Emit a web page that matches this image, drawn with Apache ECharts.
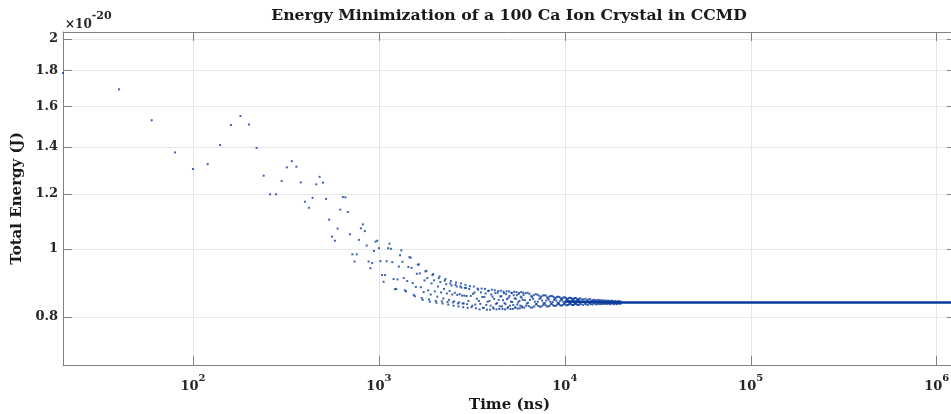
<!DOCTYPE html>
<html>
<head>
<meta charset="utf-8">
<script src="https://cdn.jsdelivr.net/npm/echarts@6/dist/echarts.min.js"></script>
<style>
html,body{margin:0;padding:0;background:#fff;}
#chart{width:951px;height:414px;}
</style>
</head>
<body>
<div id="chart"></div>
<script>
// Time (ns) and total energy (units of 1e-20 J)
const timeEarly = [20,40,60,80,100,120,140,160,180,200,220,240,260,280,300,320,340,360,380,400,
420,440,460,480,500,520,540,560,580,600,620,640,660,680,700,720,740,760,780,800,
820,840,860,880,900,920,940,960,980,1000,1020,1040,1060,1080,1100,1120,1140,1160,1180,1200,
1220,1240,1260,1280,1300,1320,1340,1360,1380,1400,1420,1440,1460,1480,1500,1520,1540,1560,1580,1600,
1620,1640,1660,1680,1700,1720,1740,1760,1780,1800,1820,1840,1860,1880,1900,1920,1940,1960,1980,2000,
2020,2040,2060,2080,2100,2120,2140,2160,2180,2200,2220,2240,2260,2280,2300,2320,2340,2360,2380,2400,
2420,2440,2460,2480,2500,2520,2540,2560,2580,2600,2620,2640,2660,2680,2700,2720,2740,2760,2780,2800,
2820,2840,2860,2880,2900,2920,2940,2960,2980,3000];
const energyEarly = [1.787,1.693,1.529,1.375,1.302,1.323,1.409,1.505,1.550,1.508,1.396,1.274,1.198,1.198,1.252,1.309,1.336,1.312,1.246,1.169,
1.146,1.184,1.238,1.269,1.245,1.180,1.102,1.042,1.028,1.070,1.139,1.187,1.186,1.130,1.050,0.983,0.960,0.983,1.031,1.071,
1.085,1.061,1.012,0.960,0.939,0.955,0.994,1.025,1.028,1.003,0.961,0.918,0.898,0.918,0.961,1.003,1.018,1.001,0.958,0.906,
0.876,0.877,0.905,0.944,0.980,0.996,0.959,0.909,0.873,0.870,0.900,0.943,0.974,0.972,0.940,0.894,0.860,0.856,0.883,0.922,
0.950,0.951,0.923,0.882,0.851,0.846,0.868,0.902,0.929,0.931,0.909,0.873,0.847,0.841,0.861,0.893,0.918,0.921,0.902,0.870,
0.843,0.838,0.855,0.884,0.909,0.914,0.897,0.867,0.842,0.836,0.850,0.877,0.901,0.906,0.891,0.864,0.840,0.833,0.846,0.871,
0.893,0.900,0.887,0.861,0.839,0.830,0.842,0.866,0.889,0.896,0.884,0.860,0.836,0.828,0.839,0.862,0.884,0.893,0.881,0.858,
0.836,0.826,0.836,0.858,0.880,0.889,0.880,0.857,0.834,0.824];
const timeBand = [3060,3120,3180,3240,3300,3360,3420,3480,3540,3600,3660,3720,3780,3840,3900,3960,4020,4080,4140,4200,
4260,4320,4380,4440,4500,4560,4620,4680,4740,4800,4860,4920,4980,5040,5100,5160,5220,5280,5340,5400,
5460,5520,5580,5640,5700,5760,5820,5880,5940,6000,
6100,6200,6300,6400,6500,6600,6700,6800,6900,7000,7100,7200,7300,7400,7500,7600,7700,7800,7900,8000,
8100,8200,8300,8400,8500,8600,8700,8800,8900,9000,9100,9200,9300,9400,9500,9600,9700,9800,9900,10000,
10100,10200,10300,10400,10500,10600,10700,10800,10900,11000,11100,11200,11300,11400,11500,11600,11700,11800,11900,12000,
12200,12400,12600,12800,13000,13200,13400,13600,13800,14000,14200,14400,14600,14800,15000,15200,15400,15600,15800,16000,
16200,16400,16600,16800,17000,17200,17400,17600,17800,18000,18200,18400,18600,18800,19000,19200,19400,19600,19800,20000];
const energyBand = [0.877,0.857,0.830,0.884,0.833,0.849,0.875,0.820,0.867,0.854,0.824,0.877,0.832,0.841,0.872,0.819,0.861,0.855,0.822,0.873,
0.835,0.837,0.871,0.821,0.856,0.856,0.821,0.869,0.837,0.834,0.870,0.823,0.852,0.857,0.821,0.866,0.840,0.832,0.869,0.825,
0.849,0.859,0.822,0.863,0.843,0.830,0.868,0.828,0.846,0.860,
0.845,0.830,0.866,0.829,0.846,0.857,0.825,0.859,0.841,0.834,0.861,0.829,0.849,0.851,0.828,0.858,0.837,0.837,0.858,0.828,
0.850,0.847,0.830,0.857,0.835,0.840,0.854,0.829,0.851,0.844,0.833,0.855,0.834,0.842,0.850,0.830,0.851,0.841,0.835,0.853,
0.833,0.844,0.848,0.832,0.851,0.839,0.837,0.851,0.832,0.845,0.845,0.833,0.851,0.837,0.839,0.849,0.832,0.846,0.843,0.834,
0.835,0.847,0.847,0.835,0.834,0.845,0.847,0.836,0.834,0.843,0.846,0.838,0.834,0.841,0.846,0.839,0.834,0.840,0.845,0.840,
0.835,0.839,0.844,0.840,0.835,0.838,0.843,0.841,0.836,0.837,0.842,0.841,0.836,0.836,0.841,0.841,0.837,0.836,0.840,0.841];
const timeBandFill = [3030,3090,3150,3210,3270,3330,3390,3450,3510,3570,3630,3690,3750,3810,3870,3930,3990,4050,4110,4170,
4230,4290,4350,4410,4470,4530,4590,4650,4710,4770,4830,4890,4950,5010,5070,5130,5190,5250,5310,5370,
5430,5490,5550,5610,5670,5730,5790,5850,5910,5970,
6050,6150,6250,6350,6450,6550,6650,6750,6850,6950,7050,7150,7250,7350,7450,7550,7650,7750,7850,7950,
8050,8150,8250,8350,8450,8550,8650,8750,8850,8950,9050,9150,9250,9350,9450,9550,9650,9750,9850,9950,
10050,10150,10250,10350,10450,10550,10650,10750,10850,10950,11050,11150,11250,11350,11450,11550,11650,11750,11850,11950,
12100,12300,12500,12700,12900,13100,13300,13500,13700,13900,14100,14300,14500,14700,14900,15100,15300,15500,15700,15900,
16100,16300,16500,16700,16900,17100,17300,17500,17700,17900,18100,18300,18500,18700,18900,19100,19300,19500,19700,19900];
const energyBandFill = [0.843,0.885,0.826,0.863,0.867,0.823,0.878,0.843,0.835,0.878,0.824,0.854,0.864,0.819,0.871,0.843,0.830,0.875,0.825,0.849,
0.865,0.820,0.866,0.846,0.828,0.872,0.828,0.845,0.865,0.820,0.862,0.848,0.826,0.870,0.830,0.841,0.865,0.821,0.859,0.850,
0.825,0.868,0.833,0.839,0.865,0.823,0.855,0.852,0.825,0.866,
0.825,0.865,0.836,0.838,0.863,0.825,0.854,0.849,0.828,0.862,0.834,0.841,0.858,0.827,0.855,0.844,0.832,0.859,0.832,0.844,
0.853,0.828,0.855,0.841,0.835,0.857,0.831,0.846,0.849,0.830,0.854,0.838,0.837,0.854,0.831,0.847,0.846,0.832,0.853,0.836,
0.840,0.851,0.831,0.848,0.843,0.834,0.852,0.835,0.841,0.849,0.832,0.849,0.841,0.835,0.851,0.834,0.843,0.846,0.832,0.849,
0.850,0.840,0.832,0.840,0.849,0.841,0.832,0.838,0.848,0.842,0.833,0.837,0.846,0.843,0.834,0.836,0.845,0.844,0.835,0.835,
0.843,0.844,0.836,0.835,0.842,0.844,0.837,0.834,0.841,0.844,0.838,0.834,0.840,0.843,0.839,0.834,0.838,0.843,0.839,0.835];
const timeConverged = [10000, 20000, 50000, 200000, 1270000];
const energyConverged = [0.8415, 0.8388, 0.8385, 0.8385, 0.8385];

const xTickValues = [100, 1000, 10000, 100000, 1000000];
const yTickValues = [0.8, 1, 1.2, 1.4, 1.6, 1.8, 2];
const yTickLabels = ['0.8', '1', '1.2', '1.4', '1.6', '1.8', '2'];

const titleText = 'Energy Minimization of a 100 Ca Ion Crystal in CCMD';
const xName = 'Time (ns)';
const yName = 'Total Energy (J)';

const FONT = 'DejaVu Serif';
const dotColor = '#0a3c9c';
const axisColor = '#808080';
const gridColor = '#e6e6e6';

function zip(a, b) { return a.map((v, i) => [v, b[i]]); }

const chart = echarts.init(document.getElementById('chart'), null, {renderer: 'canvas'});
const xLabelFmt = function (v) {
  const e = Math.round(Math.log10(v));
  return '{b|10}{s|' + e + '}';
};
const xRich = {
  b: {fontFamily: FONT, fontWeight: 'bold', fontSize: 13, color: '#262626', lineHeight: 20, verticalAlign: 'bottom'},
  s: {fontFamily: FONT, fontWeight: 'bold', fontSize: 10, color: '#262626', verticalAlign: 'top', lineHeight: 12}
};
const commonX = {
  type: 'log', logBase: 10, min: 20, max: 1270000, gridIndex: 0,
  axisLine: {show: true, lineStyle: {color: axisColor, width: 1}},
  axisTick: {show: true, inside: true, length: 9, lineStyle: {color: axisColor}},
  minorTick: {show: false}
};
const commonY = {
  type: 'log', logBase: 10, min: 0.6826, max: 2.045, gridIndex: 0,
  axisLine: {show: true, lineStyle: {color: axisColor, width: 1}},
  axisTick: {show: true, inside: true, length: 9, lineStyle: {color: axisColor}, customValues: yTickValues},
  minorTick: {show: false}
};
const dotStyle = {symbol: 'rect', symbolSize: 2, itemStyle: {color: dotColor}, silent: true, z: 3};

chart.setOption({
  animation: false,
  backgroundColor: '#fff',
  title: [
    {text: titleText, left: 504, textAlign: 'center', top: 3,
     textStyle: {fontFamily: FONT, fontWeight: 'bold', fontSize: 15.7, color: '#1a1a1a'}},
    {text: '{a|×10}{b|-20}', left: 60, top: 6,
     textStyle: {rich: {
       a: {fontFamily: FONT, fontSize: 12, color: '#262626', verticalAlign: 'bottom', lineHeight: 20},
       b: {fontFamily: FONT, fontWeight: 'bold', fontSize: 11, color: '#262626', verticalAlign: 'top', lineHeight: 12}
     }}}
  ],
  grid: {left: 63, top: 32, width: 893, height: 333, containLabel: false, outerBoundsMode: 'none'},
  xAxis: [
    Object.assign({}, commonX, {
      position: 'bottom',
      name: xName, nameLocation: 'middle', nameGap: 32,
      nameTextStyle: {fontFamily: FONT, fontWeight: 'bold', fontSize: 15, color: '#1a1a1a'},
      axisLabel: {show: true, showMinLabel: false, showMaxLabel: false, margin: 8,
        formatter: xLabelFmt, rich: xRich},
      splitLine: {show: true, lineStyle: {color: gridColor, width: 1}}
    }),
    Object.assign({}, commonX, {
      position: 'top', axisLabel: {show: false}, splitLine: {show: false}
    })
  ],
  yAxis: [
    Object.assign({}, commonY, {
      position: 'left',
      name: yName, nameLocation: 'middle', nameGap: 35, nameRotate: 90,
      nameTextStyle: {fontFamily: FONT, fontWeight: 'bold', fontSize: 15, color: '#1a1a1a'},
      axisLabel: {show: true, customValues: yTickValues, margin: 5,
        fontFamily: FONT, fontWeight: 'bold', fontSize: 13, color: '#262626',
        formatter: function (v) {
          const i = yTickValues.findIndex(t => Math.abs(t - v) < 1e-6);
          return i >= 0 ? yTickLabels[i] : '';
        }},
      splitLine: {show: true, lineStyle: {color: gridColor, width: 1}}
    }),
    Object.assign({}, commonY, {
      position: 'right', axisLabel: {show: false, customValues: yTickValues}, splitLine: {show: false}
    })
  ],
  series: [
    {type: 'line', xAxisIndex: 0, yAxisIndex: 0, data: zip(timeConverged, energyConverged),
     showSymbol: false, symbol: 'none', lineStyle: {color: dotColor, width: 2.6}, silent: true, z: 2},
    Object.assign({type: 'scatter', xAxisIndex: 0, yAxisIndex: 0, data: zip(timeEarly, energyEarly)}, dotStyle),
    Object.assign({type: 'scatter', xAxisIndex: 0, yAxisIndex: 0, data: zip(timeBand, energyBand)}, dotStyle),
    Object.assign({type: 'scatter', xAxisIndex: 0, yAxisIndex: 0, data: zip(timeBandFill, energyBandFill)}, dotStyle)
  ]
});
</script>
</body>
</html>
